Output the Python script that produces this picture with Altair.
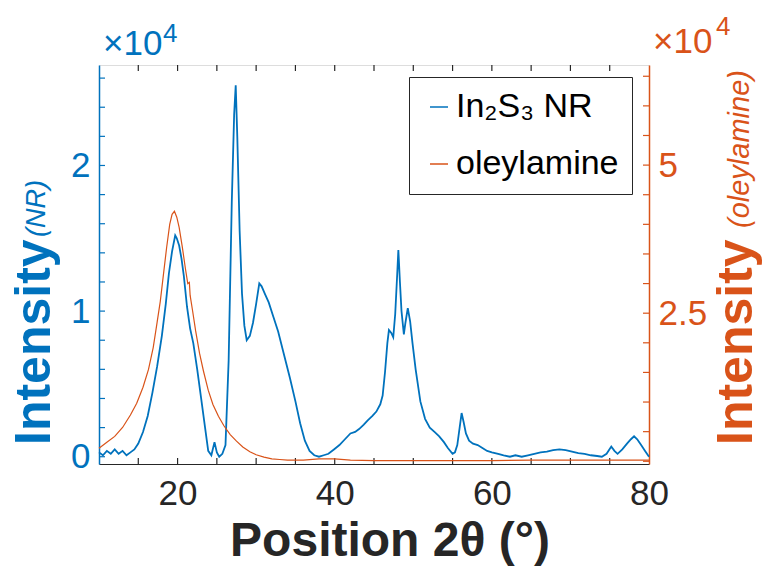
import altair as alt
import pandas as pd

# ---------------- data ----------------
blue_x = [10.0, 10.5, 11.0, 11.5, 12.0, 12.5, 13.0, 13.5, 14.0, 14.5,
          15.0, 15.6, 16.2, 16.8, 17.4, 18.0, 18.5, 18.9, 19.3, 19.7,
          19.9, 20.2, 20.5, 20.8, 21.2, 21.6, 22.0, 22.5, 23.0, 23.5,
          23.9, 24.3, 24.7, 25.0, 25.3, 25.7, 26.1, 26.5, 26.9, 27.2,
          27.4, 27.6, 27.9, 28.2, 28.5, 28.8, 29.2, 29.6, 30.0, 30.4,
          30.7, 31.1, 31.6, 32.2, 32.8, 33.5, 34.3, 35.0, 35.6, 36.2,
          36.8, 37.4, 38.0, 38.6, 39.2, 39.9, 40.6, 41.3, 42.0, 42.6,
          43.1, 43.7, 44.2, 44.8, 45.3, 45.8, 46.1, 46.4, 46.7, 46.9,
          47.2, 47.45, 47.7, 47.95, 48.1, 48.3, 48.5, 48.8, 49.0, 49.3,
          49.6, 49.9, 50.3, 50.9, 51.5, 52.1, 52.7, 53.3, 53.9, 54.4,
          55.0, 55.3, 55.6, 55.9, 56.15, 56.4, 56.7, 57.1, 57.6, 58.2,
          58.8, 59.4, 60.0, 60.8, 61.5, 62.3, 63.0, 63.8, 64.6, 65.4,
          66.2, 67.0, 67.8, 68.6, 69.4, 70.2, 71.0, 71.8, 72.6, 73.4,
          74.0, 74.6, 75.2, 75.6, 76.0, 76.6, 77.2, 77.7, 78.1, 78.5,
          79.0, 79.5, 80.0]
blue_y = [300, 100, 400, 200, 500, 200, 400, 100, 300, 500,
          900, 1700, 2800, 4400, 6200, 8300, 10500, 12600, 14100, 15200,
          15000, 14500, 13600, 12400, 10300, 8800, 7800, 6000, 4000, 2000,
          400, 100, 1000, 300, 0, 200, 800, 6600, 17500, 23500,
          25500, 22000, 15500, 11200, 9000, 8000, 8300, 9200, 10500, 11900,
          11700, 11200, 10600, 9600, 8600, 7100, 5400, 3800, 2300, 1100,
          400, 100, 0, 100, 200, 500, 800, 1200, 1600, 1700,
          1900, 2200, 2500, 2800, 3100, 3600, 4200, 5800, 7800, 8700,
          8500, 8200, 9800, 12500, 14200, 12000, 10000, 8400, 9200, 10200,
          9300, 7800, 6000, 3800, 2600, 2000, 1700, 1400, 1000, 600,
          200, 300, 800, 2000, 3000, 2400, 1600, 1100, 900, 800,
          600, 400, 300, 200, 100, 0, 100, 0, 100, 200,
          300, 350, 450, 500, 450, 350, 250, 200, 100, 50,
          0, 200, 700, 400, 200, 500, 900, 1200, 1400, 1200,
          800, 400, 0]

orange_x = [10.0, 11.0, 12.0, 13.0, 14.0, 14.8, 15.6, 16.3, 16.9, 17.4,
            17.8, 18.2, 18.6, 19.0, 19.3, 19.6, 19.9, 20.2, 20.6, 21.0,
            21.3, 21.5, 21.6, 21.9, 22.3, 22.8, 23.3, 23.9, 24.5, 25.2,
            25.9, 26.7, 27.5, 28.3, 29.2, 30.0, 31.0, 32.0, 33.0, 34.0,
            36.0, 38.0, 40.0, 42.0, 45.0, 50.0, 55.0, 60.0, 65.0, 70.0,
            75.0, 80.0]
orange_y = [2200, 3200, 4200, 5700, 7800, 9800, 12500, 15500, 19200, 23500,
            27000, 31500, 36000, 40000, 41700, 42200, 41200, 39500, 36200, 32500,
            30000, 30200, 28000, 25500, 22000, 18200, 15200, 12000, 9600, 7600,
            6000, 4500, 3400, 2400, 1600, 1100, 700, 400, 300, 200,
            200, 400, 400, 200, 100, 100, 100, 100, 200, 200,
            200, 200]

series_names = ["In₂S₃ NR", "oleylamine"]
series_colors = ["#0072BD", "#D95319"]

x_domain = [10, 80]
x_label_values = [20, 40, 60, 80]
x_tick_values = [15, 20, 25, 30, 35, 40, 45, 50, 55, 60, 65, 70, 75]

left_domain = [-500, 26900]
left_label_values = [0, 10000, 20000]
left_tick_values = [0, 2000, 4000, 6000, 8000, 10000, 12000, 14000, 16000,
                    18000, 20000, 22000, 24000, 26000]

right_domain = [-460, 66900]
right_label_values = [25000, 50000]
right_tick_values = [0, 5000, 10000, 15000, 20000, 25000, 30000, 35000,
                     40000, 45000, 50000, 55000, 60000, 65000]

x_title = ["Position 2θ (°)"]
y_title_main = ["Intensity"]
left_title_sub = ["(NR)"]
right_title_sub = ["(oleylamine)"]
exp_base = ["×10"]
exp_power = ["4"]

# ---------------- styling ----------------
W, H = 550, 399
FONT = "Liberation Sans"
BLUE, ORANGE, DARK = series_colors[0], series_colors[1], "#262626"

df_b = pd.DataFrame({"x": blue_x, "y": blue_y, "series": series_names[0]})
df_o = pd.DataFrame({"x": orange_x, "y": orange_y, "series": series_names[1]})

xscale = alt.Scale(domain=x_domain, nice=False, zero=False)
lscale = alt.Scale(domain=left_domain, nice=False, zero=False)
rscale = alt.Scale(domain=right_domain, nice=False, zero=False)
cscale = alt.Scale(domain=series_names, range=series_colors)

x_axis = alt.Axis(
    values=x_label_values, ticks=False, tickSize=0, domainColor=DARK,
    domainWidth=1.2, grid=False, labelFont=FONT, labelFontSize=35,
    labelColor=DARK, labelPadding=12, labelFlush=False,
    labelOverlap=False, title=None)
left_axis = alt.Axis(
    orient="left", values=left_label_values,
    labelExpr="datum.value / 10000", ticks=False, tickSize=0,
    domainColor=BLUE, domainWidth=1.5, grid=False, labelFont=FONT,
    labelFontSize=35, labelColor=BLUE, labelPadding=9, title=None)
right_axis = alt.Axis(
    orient="right", values=right_label_values,
    labelExpr="datum.value / 10000", ticks=False, tickSize=0,
    domainColor=ORANGE, domainWidth=1.5, grid=False, labelFont=FONT,
    labelFontSize=35, labelColor=ORANGE, labelPadding=9, title=None)

legend = alt.Legend(
    orient="none", legendX=310, legendY=12, title=None,
    symbolType="stroke", symbolSize=324, symbolStrokeWidth=1.5,
    labelFont=FONT, labelFontSize=34, labelColor="black", labelOffset=0,
    strokeColor=DARK, fillColor="white", padding=13, rowPadding=23,
    labelLimit=400,
)

blue_line = alt.Chart(df_b).mark_line(strokeWidth=1.8).encode(
    x=alt.X("x:Q", scale=xscale, axis=x_axis),
    y=alt.Y("y:Q", scale=lscale, axis=left_axis),
    color=alt.Color("series:N", scale=cscale, legend=legend),
)

df_xt = pd.DataFrame({"x": x_tick_values})
xt_bottom = alt.Chart(df_xt).mark_rule(color=DARK, strokeWidth=1.2).encode(
    x=alt.X("x:Q", scale=xscale, axis=x_axis),
    y=alt.value(H), y2=alt.value(H - 6))
xt_top = alt.Chart(df_xt).mark_rule(color=DARK, strokeWidth=1.2).encode(
    x=alt.X("x:Q", scale=xscale, axis=x_axis),
    y=alt.value(0), y2=alt.value(6))

df_lt = pd.DataFrame({"y": left_tick_values})
lt = alt.Chart(df_lt).mark_rule(color=BLUE, strokeWidth=1.2).encode(
    y=alt.Y("y:Q", scale=lscale, axis=left_axis),
    x=alt.value(0), x2=alt.value(6))

blue_group = alt.layer(blue_line, lt, xt_bottom, xt_top)

orange_line = alt.Chart(df_o).mark_line(strokeWidth=1.2).encode(
    x=alt.X("x:Q", scale=xscale, axis=x_axis),
    y=alt.Y("y:Q", scale=rscale, axis=right_axis),
    color=alt.Color("series:N", scale=cscale, legend=legend),
)
df_rt = pd.DataFrame({"y": right_tick_values})
rt = alt.Chart(df_rt).mark_rule(color=ORANGE, strokeWidth=1.2).encode(
    y=alt.Y("y:Q", scale=rscale, axis=right_axis),
    x=alt.value(W), x2=alt.value(W - 6))

orange_group = alt.layer(orange_line, rt)


def label(texts, x, y, size, color, weight="normal", style="normal",
          angle=0, align="left"):
    return alt.Chart(pd.DataFrame({"t": texts})).mark_text(
        font=FONT, fontSize=size, fontWeight=weight, fontStyle=style,
        color=color, angle=angle, align=align, baseline="alphabetic",
    ).encode(text="t:N", x=alt.value(x), y=alt.value(y))


texts = [
    label(x_title, 291, 491, 48, DARK, weight="bold", align="center"),
    label(y_title_main, -49, 380, 50, BLUE, weight="bold", angle=270),
    label(left_title_sub, -54, 172, 27, BLUE, style="italic", angle=270),
    label(y_title_main, 653, 380, 50, ORANGE, weight="bold", angle=270),
    label(right_title_sub, 650, 163, 29, ORANGE, style="italic", angle=270),
    label(exp_base, 4, -10, 35, BLUE),
    label(exp_power, 64, -23, 26, BLUE),
    label(exp_base, 554, -12, 35, ORANGE),
    label(exp_power, 617, -30, 26, ORANGE),
]

chart = alt.layer(blue_group, orange_group, *texts).resolve_scale(
    y="independent"
).properties(
    width=W, height=H,
    padding={"left": 99, "top": 65, "right": 114, "bottom": 102},
    autosize=alt.AutoSizeParams(type="none"),
).configure_view(
    stroke=DARK, strokeWidth=1.2
).configure(font=FONT, background="white")

chart.save("out.html", embed_options={"renderer": "svg", "actions": False})
